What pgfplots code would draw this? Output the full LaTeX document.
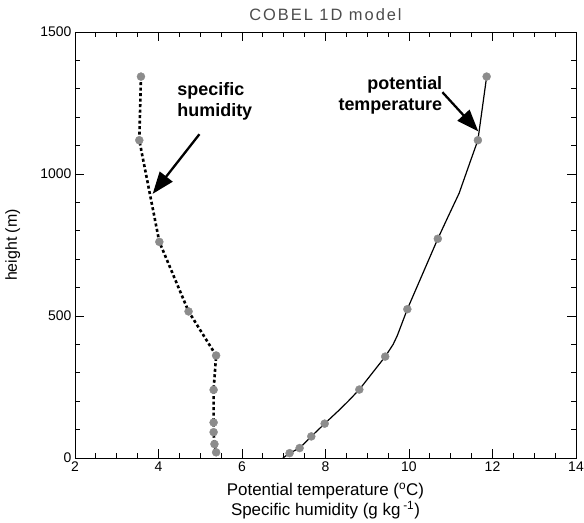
\documentclass[border=0pt]{standalone}
\usepackage{pgfplots}
\pgfplotsset{compat=1.18}
\usepackage{fontspec}
\setmainfont{Liberation Sans}
\usetikzlibrary{arrows.meta}
\definecolor{markgray}{RGB}{140,140,140}
\begin{document}
\begin{tikzpicture}
\begin{axis}[name=ax, scale only axis, width=501bp, height=426bp,
  xmin=2, xmax=14, ymin=0, ymax=1500,
  xtick={2,4,...,14}, minor x tick num=3,
  ytick={0,500,1000,1500}, minor y tick num=4,
  major tick length=9bp, minor tick length=5bp,
  axis line style={line width=0.9bp},
  every tick/.style={black, line width=0.8bp},
  tick label style={font=\fontsize{14}{14}\selectfont},
  /pgf/number format/assume math mode=true,
  /pgf/number format/1000 sep={},
  title={COBEL 1D model},
  title style={at={(axis description cs:0.5,1.012)}, anchor=base, inner sep=0pt,
    font=\fontsize{16.5}{16.5}\selectfont\addfontfeature{LetterSpace=12}, text=black!70},
  xlabel={Potential temperature (\textsuperscript{o}C)\\Specific humidity (g kg\,\textsuperscript{-1})},
  xlabel style={at={(axis description cs:0.5,-0.058)}, anchor=north, align=center, inner sep=0pt,
    font=\fontsize{17}{20.5}\selectfont},
  ylabel={height (m)},
  ylabel style={at={(axis description cs:-0.124,0.5)}, anchor=center, inner sep=0pt,
    font=\fontsize{16}{16}\selectfont},
  clip=false]
% specific humidity line
\addplot[black, line width=2.6bp, dash pattern=on 3bp off 2.5bp, no marks] coordinates {
 (3.58,1343) (3.54,1119) (4.02,761) (4.72,516) (5.38,361) (5.32,240) (5.32,125) (5.32,91) (5.34,49) (5.38,20)};
% potential temperature line
\addplot[black, line width=1.2bp, no marks] coordinates {
 (6.98,0) (7.14,17) (7.38,35) (7.66,76) (7.98,121) (8.30,165) (8.53,198) (8.81,241) (9.43,357) (9.62,400) (9.72,431) (9.96,524)
 (10.69,772) (10.94,851) (11.20,932) (11.48,1049) (11.65,1119) (11.86,1343)};
% markers
\addplot[markgray, only marks, mark=*, mark size=4bp, mark options={fill=markgray, draw=markgray}] coordinates {
 (3.58,1343) (3.54,1119) (4.02,761) (4.72,516) (5.38,361) (5.32,240) (5.32,125) (5.32,91) (5.34,49) (5.38,20)};
\addplot[markgray, only marks, mark=*, mark size=4bp, mark options={fill=markgray, draw=markgray}] coordinates {
 (7.14,17) (7.38,35) (7.66,76) (7.98,121) (8.81,241) (9.43,357) (9.96,524) (10.69,772) (11.65,1119) (11.86,1343)};
% annotations
\draw[black, line width=2.3bp, -{Triangle[length=22bp,width=16bp]}] (axis cs:4.98,1140) -- (axis cs:3.86,930);
\draw[black, line width=2.3bp, -{Triangle[length=22bp,width=16bp]}] (axis cs:10.80,1288) -- (axis cs:11.66,1150);
\node[anchor=north west, align=left, inner sep=0pt, font=\bfseries\fontsize{18}{21}\selectfont]
  at (axis cs:4.45,1322) {specific\\humidity};
\node[anchor=north east, align=right, inner sep=0pt, font=\bfseries\fontsize{18}{21}\selectfont]
  at (axis cs:10.80,1345) {potential\\temperature};
\end{axis}
\pgfresetboundingbox
\path[use as bounding box] ([shift={(-75bp,-65bp)}]ax.south west) rectangle ([shift={(8bp,32bp)}]ax.north east);
\end{tikzpicture}
\end{document}
